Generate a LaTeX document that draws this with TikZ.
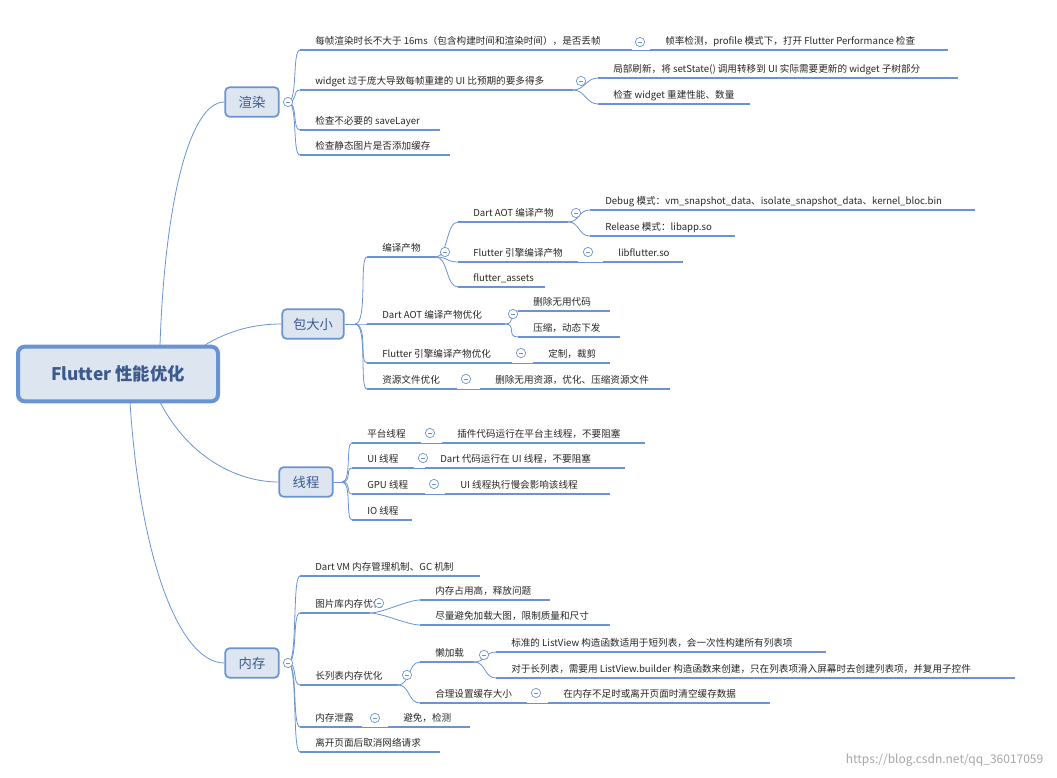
\documentclass[tikz,border=0pt]{standalone}
\usepackage{fontspec}
\usetikzlibrary{calc}
\setmainfont{Noto Sans CJK SC}
\begin{document}
\begin{tikzpicture}[x=0.75pt,y=-0.75pt,
  uline/.style={draw=lb,line width=1.6pt},
  conn/.style={draw=lb,line width=0.6pt},
  lbl/.style={font=\fontsize{7.2}{8}\selectfont,text=black!85,inner sep=0pt,anchor=base west},
  mbox/.style={draw=lb,line width=1.3pt,fill=bf,rounded corners=3pt,text=tb,font=\fontsize{10}{12}\selectfont},
  tog/.style={circle,draw=lb,line width=0.5pt,fill=white,minimum size=7pt,inner sep=0pt}]
\definecolor{lb}{HTML}{6A93D2}
\definecolor{bf}{HTML}{DDE5F0}
\definecolor{tb}{HTML}{3C5A8C}
\useasboundingbox (0,0) rectangle (1057,778);
\newcommand\leaf[5]{\coordinate (#1-s) at (#2,#4);\coordinate (#1-e) at (#3,#4);
 \draw[uline] (#1-s)--(#1-e); \node[lbl] (#1) at (#2+15,#4-6) {#5};}
\newcommand\cn[2]{\draw[conn] (#1) .. controls +(12,0) and +(-12,0) .. (#2);}
\newcommand\tg[2]{\node[tog] (#1) at #2 {}; \draw[line width=0.5pt,draw=lb] ($(#1)+(-2.2,0)$)--($(#1)+(2.2,0)$);}
% root
\node[draw=lb,line width=3pt,fill=bf,rounded corners=5pt,minimum width=150pt,minimum height=41pt,text=tb,font=\fontsize{13}{15}\selectfont\bfseries] (root) at (118,374) {Flutter 性能优化};
\node[mbox,minimum width=40pt,minimum height=22pt] (m1) at (252,102) {渲染};
\node[mbox,minimum width=46pt,minimum height=22pt] (m2) at (313,324) {包大小};
\node[mbox,minimum width=40pt,minimum height=22pt] (m3) at (306,482) {线程};
\node[mbox,minimum width=40pt,minimum height=22pt] (m4) at (252,663) {内存};
\coordinate (r1) at (160,345);\coordinate (r2) at (205,345);\coordinate (r3) at (160,402);\coordinate (r4) at (130,402);
\draw[conn] (r1) .. controls (165,200) and (190,102) .. (m1.west);
\draw[conn] (r2) .. controls (230,330) and (255,324) .. (m2.west);
\draw[conn] (r3) .. controls (190,460) and (240,482) .. (m3.west);
\draw[conn] (r4) .. controls (140,560) and (180,663) .. (m4.west);
% render
\coordinate (t1) at (288,102);
\leaf{a1}{300}{632}{50}{每帧渲染时长不大于 16ms（包含构建时间和渲染时间），是否丢帧}
\leaf{a2}{300}{573}{90}{widget 过于庞大导致每帧重建的 UI 比预期的要多得多}
\leaf{a3}{300}{440}{130}{检查不必要的 saveLayer}
\leaf{a4}{300}{450}{155}{检查静态图片是否添加缓存}
\foreach \c in {a1,a2,a3,a4}{\draw[conn] (t1) .. controls (298,102) and ([xshift=-6pt]\c-s) .. (\c-s);}
\leaf{a11}{650}{948}{50}{帧率检测，profile 模式下，打开 Flutter Performance 检查}
\leaf{a21}{598}{958}{78}{局部刷新，将 setState() 调用转移到 UI 实际需要更新的 widget 子树部分}
\leaf{a22}{598}{750}{104}{检查 widget 重建性能、数量}
\draw[conn] (a1-e)--(a11-s); \cn{a2-e}{a21-s} \cn{a2-e}{a22-s}
\tg{c1}{(288,102)} \tg{c2}{(640,42)} \tg{c3}{(581,81)}
% package
\coordinate (t2) at (355,324);
\draw[conn] (m2.east)--(t2);
\leaf{b1}{367}{436}{257}{编译产物}
\leaf{b2}{367}{505}{324}{Dart AOT 编译产物优化}
\leaf{b3}{367}{512}{363}{Flutter 引擎编译产物优化}
\leaf{b4}{367}{457}{389}{资源文件优化}
\foreach \c in {b1,b2,b3,b4}{\draw[conn] (t2) .. controls (368,324) and ([xshift=-6pt]\c-s) .. (\c-s);}
\leaf{b11}{458}{568}{222}{Dart AOT 编译产物}
\leaf{b12}{458}{578}{262}{Flutter 引擎编译产物}
\leaf{b13}{458}{545}{287}{flutter\_assets}
\cn{b1-e}{b11-s} \cn{b1-e}{b12-s} \cn{b1-e}{b13-s}
\leaf{b111}{590}{975}{210}{Debug 模式：vm\_snapshot\_data、isolate\_snapshot\_data、kernel\_bloc.bin}
\leaf{b112}{590}{735}{236}{Release 模式：libapp.so}
\cn{b11-e}{b111-s} \cn{b11-e}{b112-s}
\leaf{b121}{603}{683}{262}{libflutter.so}
\draw[conn] (b12-e)--(b121-s);
\leaf{b21}{518}{610}{311}{删除无用代码}
\leaf{b22}{518}{620}{337}{压缩，动态下发}
\cn{b2-e}{b21-s} \cn{b2-e}{b22-s}
\leaf{b31}{533}{610}{363}{定制，裁剪}
\draw[conn] (b3-e)--(b31-s);
\leaf{b41}{480}{670}{389}{删除无用资源，优化、压缩资源文件}
\draw[conn] (b4-e)--(b41-s);
\tg{c4}{(445,252)} \tg{c5}{(576,213)} \tg{c6}{(588,252)} \tg{c7}{(513,314)} \tg{c8}{(521,353)} \tg{c9}{(466,379)}
% thread
\coordinate (t3) at (342,482);
\draw[conn] (m3.east)--(t3);
\leaf{d1}{352}{421}{443}{平台线程}
\leaf{d2}{352}{414}{468}{UI 线程}
\leaf{d3}{352}{425}{494}{GPU 线程}
\leaf{d4}{352}{412}{520}{IO 线程}
\foreach \c in {d1,d2,d3,d4}{\draw[conn] (t3) .. controls (352,482) and ([xshift=-5pt]\c-s) .. (\c-s);}
\leaf{d11}{442}{645}{443}{插件代码运行在平台主线程，不要阻塞}
\leaf{d21}{425}{625}{468}{Dart 代码运行在 UI 线程，不要阻塞}
\leaf{d31}{445}{610}{494}{UI 线程执行慢会影响该线程}
\draw[conn] (d1-e)--(d11-s); \draw[conn] (d2-e)--(d21-s); \draw[conn] (d3-e)--(d31-s);
\tg{c10}{(430,433)} \tg{c11}{(423,458)} \tg{c12}{(434,484)}
% memory
\coordinate (t4) at (288,663);
\leaf{e1}{300}{480}{576}{Dart VM 内存管理机制、GC 机制}
\leaf{e2}{300}{370}{613}{图片库内存优化}
\leaf{e3}{300}{398}{685}{长列表内存优化}
\leaf{e4}{300}{362}{727}{内存泄露}
\leaf{e5}{300}{440}{752}{离开页面后取消网络请求}
\foreach \c in {e1,e2,e3,e4,e5}{\draw[conn] (t4) .. controls (298,663) and ([xshift=-6pt]\c-s) .. (\c-s);}
\leaf{e21}{420}{550}{600}{内存占用高，释放问题}
\leaf{e22}{420}{610}{625}{尽量避免加载大图，限制质量和尺寸}
\cn{e2-e}{e21-s} \cn{e2-e}{e22-s}
\leaf{e31}{420}{474}{662}{懒加载}
\leaf{e32}{420}{527}{703}{合理设置缓存大小}
\cn{e3-e}{e31-s} \cn{e3-e}{e32-s}
\leaf{e311}{496}{826}{652}{标准的 ListView 构造函数适用于短列表，会一次性构建所有列表项}
\leaf{e312}{496}{1015}{678}{对于长列表，需要用 ListView.builder 构造函数来创建，只在列表项滑入屏幕时去创建列表项，并复用子控件}
\cn{e31-e}{e311-s} \cn{e31-e}{e312-s}
\leaf{e321}{548}{770}{703}{在内存不足时或离开页面时清空缓存数据}
\draw[conn] (e32-e)--(e321-s);
\leaf{e41}{388}{470}{727}{避免，检测}
\draw[conn] (e4-e)--(e41-s);
\tg{c13}{(288,663)} \tg{c14}{(379,603)} \tg{c15}{(407,675)} \tg{c16}{(484,655)} \tg{c17}{(536,693)} \tg{c18}{(375,718)}
\node[font=\fontsize{9}{10}\selectfont,text=black!35,anchor=east] (wm) at (1048,760) {https://blog.csdn.net/qq\_36017059};
\end{tikzpicture}
\end{document}
